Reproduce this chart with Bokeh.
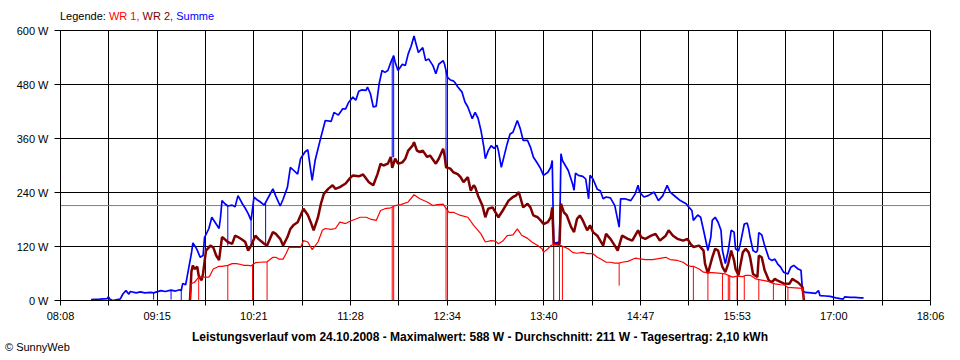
import numpy as np
from bokeh.plotting import figure
from bokeh.layouts import column
from bokeh.models import FixedTicker, Span, Range1d, CustomJSTickFormatter, Div
from bokeh.embed import file_html
from bokeh.resources import INLINE

FONT = "Liberation Sans"

# ---------------- data ----------------
tick_labels = ["08:08", "09:15", "10:21", "11:28", "12:34", "13:40", "14:47", "15:53", "17:00", "18:06"]
y_ticks = [0, 120, 240, 360, 480, 600]
average_w = 211

summe_time = [
    "08:29", "08:35", "08:40", "08:41", "08:42", "08:44", "08:47", "08:49", "08:51", "08:53",
    "08:55", "08:56", "09:00", "09:03", "09:06", "09:10", "09:12", "09:17", "09:20", "09:24",
    "09:27", "09:30", "09:31", "09:32", "09:34", "09:35", "09:38", "09:39", "09:41", "09:42",
    "09:44", "09:46", "09:47", "09:50", "09:52", "09:55", "09:57", "09:58", "09:59", "10:01",
    "10:03", "10:06", "10:08", "10:10", "10:13", "10:15", "10:17", "10:19", "10:21", "10:23",
    "10:25", "10:28", "10:31", "10:34", "10:36", "10:39", "10:41", "10:44", "10:46", "10:48",
    "10:51", "10:53", "10:56", "10:58", "11:00", "11:01", "11:03", "11:07", "11:10", "11:14",
    "11:16", "11:19", "11:22", "11:24", "11:26", "11:29", "11:31", "11:33", "11:35", "11:38",
    "11:39", "11:41", "11:43", "11:45", "11:47", "11:49", "11:51", "11:53", "11:55", "11:57",
    "11:58", "12:00", "12:03", "12:05", "12:07", "12:09", "12:11", "12:12", "12:14", "12:17",
    "12:19", "12:21", "12:24", "12:26", "12:28", "12:31", "12:32", "12:34", "12:36", "12:38",
    "12:39", "12:41", "12:44", "12:46", "12:48", "12:51", "12:53", "12:55", "12:57", "12:59",
    "13:00", "13:02", "13:04", "13:06", "13:08", "13:09", "13:11", "13:13", "13:15", "13:17",
    "13:19", "13:22", "13:24", "13:26", "13:29", "13:31", "13:33", "13:36", "13:38", "13:40",
    "13:43", "13:45", "13:46", "13:47", "13:51", "13:52", "13:53", "13:55", "13:57", "14:00",
    "14:01", "14:02", "14:04", "14:07", "14:09", "14:11", "14:12", "14:14", "14:17", "14:19",
    "14:21", "14:23", "14:26", "14:29", "14:32", "14:33", "14:36", "14:40", "14:43", "14:45",
    "14:46", "14:49", "14:52", "14:56", "14:59", "15:02", "15:05", "15:07", "15:11", "15:14",
    "15:18", "15:20", "15:22", "15:23", "15:26", "15:28", "15:30", "15:31", "15:33", "15:35",
    "15:36", "15:38", "15:40", "15:42", "15:43", "15:45", "15:47", "15:49", "15:51", "15:52",
    "15:54", "15:55", "15:58", "16:00", "16:01", "16:02", "16:04", "16:06", "16:07", "16:08",
    "16:10", "16:12", "16:15", "16:17", "16:19", "16:21", "16:23", "16:25", "16:28", "16:30",
    "16:32", "16:35", "16:37", "16:38", "16:40", "16:44", "16:47", "16:49", "16:50", "16:54",
    "16:57", "17:01", "17:04", "17:06", "17:07", "17:11", "17:14", "17:18", "17:20",
]
summe_watt = [
    2, 3, 4, 8, 3, 0, 2, 3, 15, 22,
    14, 20, 17, 19, 17, 18, 17, 22, 20, 23,
    21, 24, 22, 38, 35, 52, 105, 128, 118, 112,
    96, 100, 140, 160, 185, 170, 160, 185, 222, 215,
    210, 212, 208, 233, 215, 205, 193, 178, 230, 224,
    220, 212, 230, 248, 232, 210, 225, 252, 296, 290,
    281, 315, 330, 335, 289, 267, 311, 363, 400, 398,
    418, 412, 426, 426, 440, 452, 445, 465, 468, 467,
    474, 460, 430, 432, 481, 511, 507, 511, 529, 544,
    530, 511, 525, 522, 548, 565, 588, 575, 551, 562,
    533, 537, 522, 504, 525, 533, 525, 496, 490, 488,
    485, 475, 463, 441, 430, 404, 418, 405, 378, 341,
    315, 333, 344, 338, 345, 333, 296, 322, 348, 370,
    374, 400, 382, 356, 356, 341, 319, 304, 293, 278,
    285, 296, 311, 127, 130, 326, 311, 300, 289, 259,
    245, 283, 278, 276, 270, 226, 278, 270, 247, 244,
    226, 230, 228, 211, 163, 226, 226, 222, 237, 256,
    241, 230, 233, 241, 222, 233, 256, 241, 230, 222,
    215, 207, 200, 178, 190, 185, 156, 141, 111, 141,
    178, 185, 174, 156, 111, 82, 111, 156, 152, 115,
    110, 122, 170, 172, 160, 141, 111, 107, 110, 151,
    146, 122, 93, 89, 92, 81, 74, 63, 59, 74,
    78, 70, 67, 22, 18, 17, 16, 22, 11, 10,
    9, 6, 4, 3, 8, 7, 7, 6, 6,
]
summe_dip_time = ["09:12", "09:24", "09:31", "10:03", "10:19", "10:29", "11:56", "11:57", "12:33", "12:34", "13:51"]
summe_dip_watt = [2, 2, 0, 122, 127, 125, 318, 318, 304, 304, 0]

wr2_time = [
    "09:37", "09:38", "09:39", "09:40", "09:42", "09:43", "09:45", "09:46", "09:48", "09:50",
    "09:51", "09:53", "09:55", "09:57", "09:59", "10:01", "10:03", "10:06", "10:08", "10:10",
    "10:13", "10:15", "10:17", "10:19", "10:22", "10:24", "10:28", "10:30", "10:34", "10:36",
    "10:39", "10:41", "10:44", "10:46", "10:48", "10:51", "10:53", "10:55", "10:58", "11:00",
    "11:02", "11:05", "11:07", "11:09", "11:12", "11:15", "11:17", "11:20", "11:24", "11:27",
    "11:29", "11:33", "11:36", "11:40", "11:43", "11:46", "11:48", "11:50", "11:53", "11:55",
    "11:56", "11:58", "12:00", "12:03", "12:05", "12:07", "12:10", "12:11", "12:13", "12:15",
    "12:17", "12:20", "12:22", "12:26", "12:28", "12:31", "12:32", "12:33", "12:36", "12:38",
    "12:41", "12:43", "12:45", "12:48", "12:50", "12:52", "12:53", "12:55", "12:58", "13:00",
    "13:02", "13:05", "13:07", "13:09", "13:12", "13:14", "13:16", "13:19", "13:21", "13:23",
    "13:24", "13:26", "13:29", "13:31", "13:33", "13:36", "13:38", "13:40", "13:43", "13:45",
    "13:46", "13:47", "13:51", "13:52", "13:54", "13:56", "13:59", "14:01", "14:03", "14:05",
    "14:07", "14:10", "14:12", "14:14", "14:17", "14:19", "14:21", "14:23", "14:26", "14:29",
    "14:31", "14:34", "14:38", "14:41", "14:45", "14:47", "14:50", "14:54", "14:57", "15:00",
    "15:04", "15:06", "15:09", "15:12", "15:16", "15:19", "15:21", "15:23", "15:27", "15:30",
    "15:31", "15:33", "15:36", "15:38", "15:40", "15:43", "15:45", "15:47", "15:49", "15:51",
    "15:52", "15:54", "15:57", "15:59", "16:01", "16:02", "16:04", "16:07", "16:08", "16:10",
    "16:12", "16:15", "16:17", "16:19", "16:21", "16:25", "16:29", "16:31", "16:33", "16:35",
    "16:38", "16:39",
]
wr2_watt = [
    0, 65, 78, 70, 75, 55, 45, 60, 111, 118,
    122, 118, 100, 90, 141, 136, 130, 126, 144, 141,
    135, 130, 111, 122, 144, 137, 126, 122, 152, 148,
    137, 122, 141, 159, 167, 174, 189, 204, 190, 174,
    156, 185, 215, 237, 248, 256, 248, 252, 260, 272,
    278, 276, 280, 263, 256, 282, 304, 300, 304, 319,
    295, 315, 304, 307, 315, 333, 344, 352, 333, 330,
    333, 319, 322, 304, 315, 337, 322, 296, 293, 285,
    281, 274, 263, 274, 244, 256, 252, 233, 211, 185,
    204, 207, 196, 185, 200, 211, 222, 230, 233, 241,
    230, 207, 215, 207, 189, 185, 178, 170, 174, 185,
    207, 125, 125, 215, 196, 189, 163, 152, 181, 189,
    178, 156, 167, 152, 144, 133, 122, 148, 137, 122,
    111, 144, 137, 133, 156, 141, 137, 144, 148, 133,
    144, 156, 144, 137, 133, 137, 126, 119, 122, 111,
    82, 60, 96, 115, 111, 74, 63, 82, 111, 89,
    70, 56, 107, 115, 107, 96, 59, 52, 100, 96,
    67, 44, 41, 48, 44, 38, 37, 48, 44, 40,
    30, 0,
]
wr2_dip_time = ["13:47"]
wr2_dip_watt = [0]

wr1_time = [
    "09:37", "09:38", "09:40", "09:43", "09:46", "09:50", "09:51", "09:53", "09:57", "09:59",
    "10:03", "10:06", "10:09", "10:12", "10:14", "10:17", "10:19", "10:22", "10:25", "10:30",
    "10:34", "10:36", "10:38", "10:41", "10:43", "10:45", "10:48", "10:53", "10:55", "10:58",
    "11:01", "11:05", "11:08", "11:10", "11:14", "11:17", "11:20", "11:24", "11:27", "11:31",
    "11:34", "11:38", "11:41", "11:45", "11:48", "11:51", "11:55", "11:58", "12:02", "12:07",
    "12:11", "12:15", "12:20", "12:24", "12:27", "12:31", "12:35", "12:38", "12:43", "12:48",
    "12:52", "12:57", "13:00", "13:04", "13:07", "13:09", "13:12", "13:15", "13:19", "13:22",
    "13:25", "13:29", "13:32", "13:36", "13:39", "13:40", "13:43", "13:45", "13:47", "13:52",
    "13:57", "14:00", "14:03", "14:07", "14:10", "14:14", "14:17", "14:20", "14:23", "14:26",
    "14:29", "14:32", "14:34", "14:38", "14:43", "14:45", "14:50", "14:55", "14:59", "15:04",
    "15:07", "15:12", "15:16", "15:19", "15:21", "15:23", "15:27", "15:30", "15:33", "15:36",
    "15:40", "15:45", "15:50", "15:53", "15:57", "15:59", "16:02", "16:04", "16:06", "16:09",
    "16:12", "16:15", "16:19", "16:23", "16:26", "16:28", "16:33", "16:38", "16:39",
]
wr1_watt = [
    0, 38, 40, 52, 52, 52, 57, 70, 76, 76,
    78, 82, 82, 80, 78, 78, 77, 84, 85, 86,
    96, 96, 92, 92, 104, 118, 118, 118, 133, 130,
    113, 130, 156, 160, 158, 160, 174, 171, 176, 181,
    185, 185, 181, 178, 200, 204, 206, 211, 213, 219,
    235, 226, 219, 211, 213, 214, 196, 196, 189, 185,
    167, 148, 130, 133, 132, 126, 132, 144, 146, 159,
    145, 138, 130, 122, 115, 107, 115, 122, 125, 122,
    115, 107, 105, 107, 104, 104, 96, 91, 85, 85,
    83, 83, 85, 87, 94, 93, 91, 91, 93, 96,
    91, 89, 85, 78, 76, 76, 70, 63, 62, 62,
    61, 59, 52, 54, 53, 56, 56, 52, 48, 46,
    44, 42, 37, 35, 34, 29, 28, 27, 0,
]
wr1_dip_time = ["09:43", "10:03", "10:20", "10:30", "11:56", "11:57", "12:33", "12:34", "13:51", "13:53",
                "14:32", "15:23", "15:33", "15:43", "15:47", "15:48", "15:53", "15:58", "16:08", "16:18", "16:28"]
wr1_dip_watt = [0, 0, 0, 0, 0, 0, 0, 0, 0, 0,
                33, 0, 0, 0, 0, 0, 0, 0, 0, 0, 0]

legend_label = "Legende:"
series_names = ["WR 1", "WR 2", "Summe"]
series_colors = ["#ff0000", "#800000", "#0000ff"]
title_text = "Leistungsverlauf vom 24.10.2008 - Maximalwert: 588 W - Durchschnitt: 211 W - Tagesertrag: 2,10 kWh"
copyright_text = "\u00a9 SunnyWeb"


def to_min(s):
    h, m = s.split(":")
    return int(h) * 60 + int(m)


def minutes(lst):
    return np.array([to_min(s) for s in lst], dtype=float)


# ---------------- figure ----------------
x_start = to_min(tick_labels[0])
x_end = to_min(tick_labels[-1])
n_grid = 2 * len(tick_labels) - 1
grid_pos = list(np.linspace(x_start, x_end, n_grid))
label_step = (x_end - x_start) / (len(tick_labels) - 1)

p = figure(width=960, height=300, x_range=Range1d(x_start, x_end), y_range=Range1d(0, 600),
           output_backend="svg", toolbar_location=None,
           min_border_left=60, min_border_right=30, min_border_top=6, min_border_bottom=24,
           margin=0)
p.outline_line_color = "black"
p.outline_line_width = 1
p.background_fill_color = "white"
p.border_fill_color = "white"

xt = FixedTicker(ticks=grid_pos)
yt = FixedTicker(ticks=y_ticks)
p.xaxis.ticker = xt
p.yaxis.ticker = yt
p.xgrid.ticker = xt
p.ygrid.ticker = yt
for g in (p.xgrid, p.ygrid):
    g.grid_line_color = "black"
    g.grid_line_alpha = 1.0
    g.grid_line_width = 1

p.xaxis.formatter = CustomJSTickFormatter(
    args=dict(labels=tick_labels, x0=x_start, step=label_step),
    code="""
const k = (tick - x0) / step;
const i = Math.round(k);
return Math.abs(k - i) < 0.01 ? labels[i] : "";
""")
p.yaxis.major_label_overrides = {v: f"{v} W" for v in y_ticks}

for ax in (p.xaxis[0], p.yaxis[0]):
    ax.axis_line_color = "black"
    ax.major_tick_line_color = "black"
    ax.major_tick_in = 0
    ax.minor_tick_in = 0
    ax.minor_tick_out = 0
    ax.major_label_text_font = FONT
    ax.major_label_text_font_size = "11px"
    ax.major_label_text_color = "black"
p.xaxis.major_tick_out = 5
p.yaxis.major_tick_out = 6
p.xaxis.major_label_standoff = 4
p.yaxis.major_label_standoff = 6

avg = Span(location=average_w, dimension="width", line_color="#808080", line_width=1, level="underlay")
p.add_layout(avg)

series = [
    (summe_time, summe_watt, summe_dip_time, summe_dip_watt, series_colors[2], 1.7),
    (wr2_time, wr2_watt, wr2_dip_time, wr2_dip_watt, series_colors[1], 2.5),
    (wr1_time, wr1_watt, wr1_dip_time, wr1_dip_watt, series_colors[0], 1.2),
]
for t, w, dt, dw, col, lw in series:
    tx = minutes(t)
    p.line(tx, w, line_color=col, line_width=lw)
    dx = minutes(dt)
    top = np.interp(dx, tx, w)
    p.segment(x0=dx, y0=dw, x1=dx, y1=top, line_color=col, line_width=1)

# ---------------- texts around the chart ----------------
base_style = f"font-family:'{FONT}';font-size:11px;line-height:10px;white-space:nowrap;color:#000;"
parts = [f'<span style="color:{c}">{n}{"," if i < len(series_names) - 1 else ""}</span>'
         for i, (n, c) in enumerate(zip(series_names, series_colors))]
legend_html = (f'<div style="{base_style}padding-left:60px;padding-top:11px;">'
               f'{legend_label} ' + " ".join(parts) + '</div>')
legend_div = Div(text=legend_html, width=960, height=24, margin=0)

footer_html = (f'<div style="{base_style}font-size:12px;width:960px;text-align:center;font-weight:bold;padding-top:8px;">'
               f'{title_text}</div>'
               f'<div style="{base_style}padding-left:5px;">{copyright_text}</div>')
footer_div = Div(text=footer_html, width=960, height=36, margin=0)

layout = column(legend_div, p, footer_div, spacing=0, margin=0)

open("out.html", "w").write(file_html(layout, INLINE))
